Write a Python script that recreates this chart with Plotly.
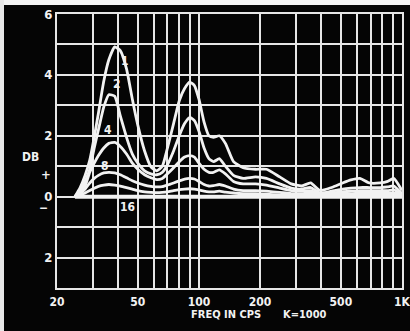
import math
import plotly.graph_objects as go

# ---- data ----
freq_hz = [24.5, 26, 27.5, 29, 30.5, 32, 34, 36, 38.5, 41, 44, 47, 50, 54, 58, 62, 66, 70, 75, 80,
           85, 90, 95, 100, 106, 112, 118, 126, 135, 148, 165, 190, 215, 250, 285, 320, 355, 395,
           450, 510, 560, 620, 690, 780, 850, 910, 1000]

db_k1 = [0, 0.3, 0.7, 1.2, 1.95, 2.75, 3.8, 4.5, 4.92, 4.8, 4.2, 3.2, 2.35, 1.5, 0.98, 0.85, 1.0, 1.6,
         2.4, 3.15, 3.55, 3.76, 3.65, 3.2, 2.45, 2.0, 1.95, 2.0, 1.75, 1.15, 0.95, 0.9, 0.9, 0.65,
         0.42, 0.35, 0.45, 0.2, 0.3, 0.45, 0.55, 0.6, 0.45, 0.45, 0.5, 0.6, 0.2]
db_k2 = [0, 0.2, 0.5, 0.9, 1.6, 2.2, 2.95, 3.35, 3.3, 2.65, 1.95, 1.4, 1.1, 0.85, 0.75, 0.72, 0.8, 1.05,
         1.5, 2.0, 2.4, 2.6, 2.5, 2.15, 1.6, 1.25, 1.15, 1.25, 1.0, 0.7, 0.6, 0.65, 0.6, 0.42,
         0.28, 0.25, 0.3, 0.12, 0.18, 0.25, 0.28, 0.3, 0.3, 0.3, 0.32, 0.35, 0.1]
db_k4 = [0, 0.15, 0.35, 0.8, 1.1, 1.35, 1.6, 1.75, 1.78, 1.65, 1.4, 1.1, 0.9, 0.72, 0.62, 0.56, 0.6, 0.75,
         0.95, 1.15, 1.3, 1.35, 1.3, 1.1, 0.9, 0.8, 0.8, 0.88, 0.75, 0.5, 0.42, 0.42, 0.38, 0.28,
         0.2, 0.18, 0.2, 0.08, 0.12, 0.16, 0.18, 0.2, 0.2, 0.2, 0.2, 0.22, 0.08]
db_k8 = [0, 0.1, 0.25, 0.45, 0.6, 0.7, 0.78, 0.8, 0.78, 0.72, 0.62, 0.52, 0.45, 0.38, 0.34, 0.32, 0.33,
         0.38, 0.45, 0.52, 0.58, 0.6, 0.58, 0.5, 0.4, 0.35, 0.36, 0.4, 0.35, 0.25, 0.2, 0.2, 0.18,
         0.14, 0.1, 0.1, 0.12, 0.05, 0.07, 0.1, 0.1, 0.12, 0.12, 0.12, 0.12, 0.12, 0.05]
db_k16 = [0, 0.05, 0.12, 0.2, 0.28, 0.34, 0.38, 0.4, 0.38, 0.35, 0.3, 0.25, 0.2, 0.16, 0.14, 0.13, 0.14,
          0.16, 0.2, 0.23, 0.25, 0.26, 0.25, 0.22, 0.18, 0.16, 0.16, 0.18, 0.15, 0.12, 0.1, 0.1, 0.08,
          0.06, 0.05, 0.05, 0.05, 0.03, 0.04, 0.05, 0.05, 0.05, 0.05, 0.05, 0.05, 0.05, 0.03]
baseline_hz = [24.5, 1000]
baseline_db = [0, 0]

curve_names = ["1", "2", "4", "8", "16"]
label_hz = [43.3, 39.3, 35.6, 34.5, 44.7]
label_db = [4.45, 3.7, 2.2, 1.0, -0.33]

x_tickvals = [20, 30, 40, 50, 60, 70, 80, 90, 100, 200, 300, 400, 500, 600, 700, 800, 900, 1000]
x_ticktext = ["20", "", "", "50", "", "", "", "", "100", "200", "", "", "500", "", "", "", "", "1K"]
y_tickvals = [-3, -2, -1, 0, 1, 2, 3, 4, 5, 6]
y_ticktext = ["", "2", "", "0", "", "2", "", "4", "", "6"]

FONT = "DejaVu Sans Condensed, Liberation Sans Narrow, DejaVu Sans, sans-serif"
WHITE = "#f2f2f2"
GRID = "#e6e6e6"

W, H = 410, 331
L, R, T, B = 57, 8, 14, 43
PW, PH = W - L - R, H - T - B


def px_x(px):
    return (px - L) / PW


def px_y(py):
    return (H - B - py) / PH


fig = go.Figure()
fig.add_trace(go.Scatter(x=baseline_hz, y=baseline_db, mode="lines",
                         line=dict(color=WHITE, width=4), hoverinfo="skip", showlegend=False))
for name, vals in zip(curve_names, [db_k1, db_k2, db_k4, db_k8, db_k16]):
    fig.add_trace(go.Scatter(x=freq_hz, y=vals, mode="lines", name=name,
                             line=dict(color=WHITE, width=2.8, shape="spline", smoothing=0.5),
                             showlegend=False))

for name, lx, ly in zip(curve_names, label_hz, label_db):
    fig.add_annotation(x=math.log10(lx), y=ly, xref="x", yref="y", text=name, showarrow=False,
                       font=dict(family=FONT, size=12, color=WHITE, weight="bold"))

cap = dict(family=FONT, size=11, color=WHITE, weight="bold")
fig.add_annotation(x=px_x(20), y=px_y(157), xref="paper", yref="paper", text="DB",
                   showarrow=False, font=dict(cap, size=12))
fig.add_annotation(x=px_x(40), y=px_y(174), xref="paper", yref="paper", text="+",
                   showarrow=False, font=dict(cap, size=13), borderpad=0)
fig.add_annotation(x=px_x(38), y=px_y(216), xref="paper", yref="paper", text="\u2212",
                   showarrow=False, font=dict(cap, size=12), borderpad=0)
fig.add_annotation(x=px_x(226), y=px_y(322), xref="paper", yref="paper", text="FREQ IN CPS",
                   showarrow=False, font=cap, borderpad=0)
fig.add_annotation(x=px_x(328), y=px_y(322), xref="paper", yref="paper", text="K=1000",
                   showarrow=False, font=cap, borderpad=0)

fig.update_xaxes(type="log", range=[math.log10(20), 3.0], tickvals=x_tickvals, ticktext=x_ticktext,
                 showgrid=True, gridcolor=GRID, gridwidth=1.6, zeroline=False, automargin=False,
                 showline=True, linecolor=GRID, linewidth=2, mirror=True, ticks="",
                 ticklabelstandoff=2, ticklabeloverflow="allow",
                 tickfont=dict(family=FONT, size=12, color=WHITE, weight="bold"))
fig.update_yaxes(range=[-3, 6], tickvals=y_tickvals, ticktext=y_ticktext, automargin=False,
                 showgrid=True, gridcolor=GRID, gridwidth=1.6, zeroline=False,
                 showline=True, linecolor=GRID, linewidth=2, mirror=True, ticks="",
                 ticklabelstandoff=0,
                 tickfont=dict(family=FONT, size=13, color=WHITE, weight="bold"))

fig.update_layout(width=W, height=H, margin=dict(l=L, r=R, t=T, b=B),
                  paper_bgcolor="#050505", plot_bgcolor="#050505",
                  shapes=[dict(type="rect", xref="paper", yref="paper", x0=px_x(0), x1=px_x(W),
                               y0=px_y(5), y1=px_y(0), fillcolor="#f4f4f4",
                               line=dict(width=0), layer="above"),
                          dict(type="rect", xref="paper", yref="paper",
                               x0=px_x(0), x1=px_x(4), y0=px_y(H), y1=px_y(0),
                               fillcolor="#e8e8e8", line=dict(width=0), layer="above")])

fig.write_html("out.html", config={"displayModeBar": False},
               post_script="document.body.style.margin='0';document.body.style.overflow='hidden';")
